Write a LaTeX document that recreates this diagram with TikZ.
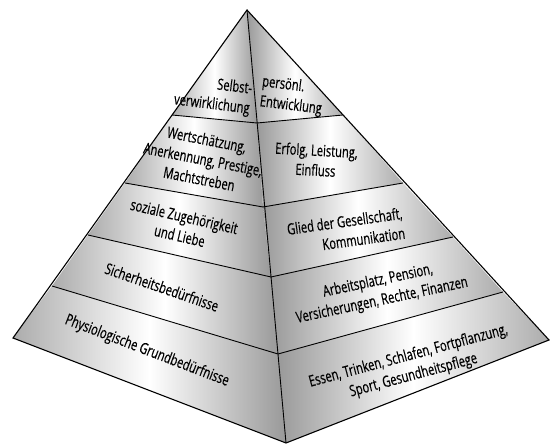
\documentclass[tikz,border=0pt]{standalone}
\usepackage{fontspec}
\setmainfont{Open Sans}[FakeStretch=0.72,FakeBold=0.4]
\usetikzlibrary{calc}

\begin{document}
\begin{tikzpicture}[
  x=1pt,y=-1pt,
  line width=0.9pt,
  leftband/.style={left color=gray!65,right color=gray!80,middle color=white},
  rightband/.style={left color=gray!80,right color=gray!65,middle color=white},
  lbl/.style={font=\fontsize{15.5}{20}\selectfont,inner sep=0pt,align=center}
]%
  \useasboundingbox (0,0) rectangle (550,446);

  % corners of the bands
  \coordinate (A)  at (247,10);
  \coordinate (L1) at (172,115);
  \coordinate (L2) at (125,183);
  \coordinate (L3) at (88,235);
  \coordinate (L4) at (52,286);
  \coordinate (L5) at (13,338);
  \coordinate (F1) at (257,123);
  \coordinate (F2) at (263,207);
  \coordinate (F3) at (271,277);
  \coordinate (F4) at (278,354);
  \coordinate (F5) at (286,443);
  \coordinate (R1) at (343,115);
  \coordinate (R2) at (403,183);
  \coordinate (R3) at (453,237);
  \coordinate (R4) at (503,292);
  \coordinate (R5) at (549,340);

  % left face
  \shade[leftband] (A)  -- (L1) -- (F1) -- cycle;
  \shade[leftband] (L1) -- (L2) -- (F2) -- (F1) -- cycle;
  \shade[leftband] (L2) -- (L3) -- (F3) -- (F2) -- cycle;
  \shade[leftband] (L3) -- (L4) -- (F4) -- (F3) -- cycle;
  \shade[leftband] (L4) -- (L5) -- (F5) -- (F4) -- cycle;

  % right face
  \shade[rightband] (A)  -- (F1) -- (R1) -- cycle;
  \shade[rightband] (F1) -- (F2) -- (R2) -- (R1) -- cycle;
  \shade[rightband] (F2) -- (F3) -- (R3) -- (R2) -- cycle;
  \shade[rightband] (F3) -- (F4) -- (R4) -- (R3) -- cycle;
  \shade[rightband] (F4) -- (F5) -- (R5) -- (R4) -- cycle;

  \draw[line width=1.1pt] (A) -- (L5) -- (F5) -- (R5) -- cycle;
  \draw (A) -- (F5);
  \draw (L1) -- (F1) -- (R1);
  \draw (L2) -- (F2) -- (R2);
  \draw (L3) -- (F3) -- (R3);
  \draw (L4) -- (F4) -- (R4);

  % needs
  \node[lbl,align=right,rotate=-7] (selbst) at (213,95)  {Selbst-\\verwirklichung};
  \node[lbl,rotate=-11]            (wert)   at (203,159) {Wertschätzung,\\Anerkennung, Prestige,\\Machtstreben};
  \node[lbl,rotate=-13]            (sozial) at (182,226) {soziale Zugehörigkeit\\und Liebe};
  \node[lbl,rotate=-19]            (sicher) at (162,287) {Sicherheitsbedürfnisse};
  \node[lbl,rotate=-21]            (physio) at (147,351) {Physiologische Grundbedürfnisse};

  % examples
  \node[lbl,align=left,rotate=-7]  (person) at (292,96)  {persönl.\\Entwicklung};
  \node[lbl,rotate=-3]             (erfolg) at (316,160) {Erfolg, Leistung,\\Einfluss};
  \node[lbl,align=right,rotate=8]  (glied)  at (346,231) {Glied der Gesellschaft,\\Kommunikation};
  \node[lbl,rotate=12]             (arbeit) at (380,291) {Arbeitsplatz, Pension,\\Versicherungen, Rechte, Finanzen};
  \node[lbl,rotate=15]             (essen)  at (411,366) {Essen, Trinken, Schlafen, Fortpflanzung,\\Sport, Gesundheitspflege};

\end{tikzpicture}
\end{document}
